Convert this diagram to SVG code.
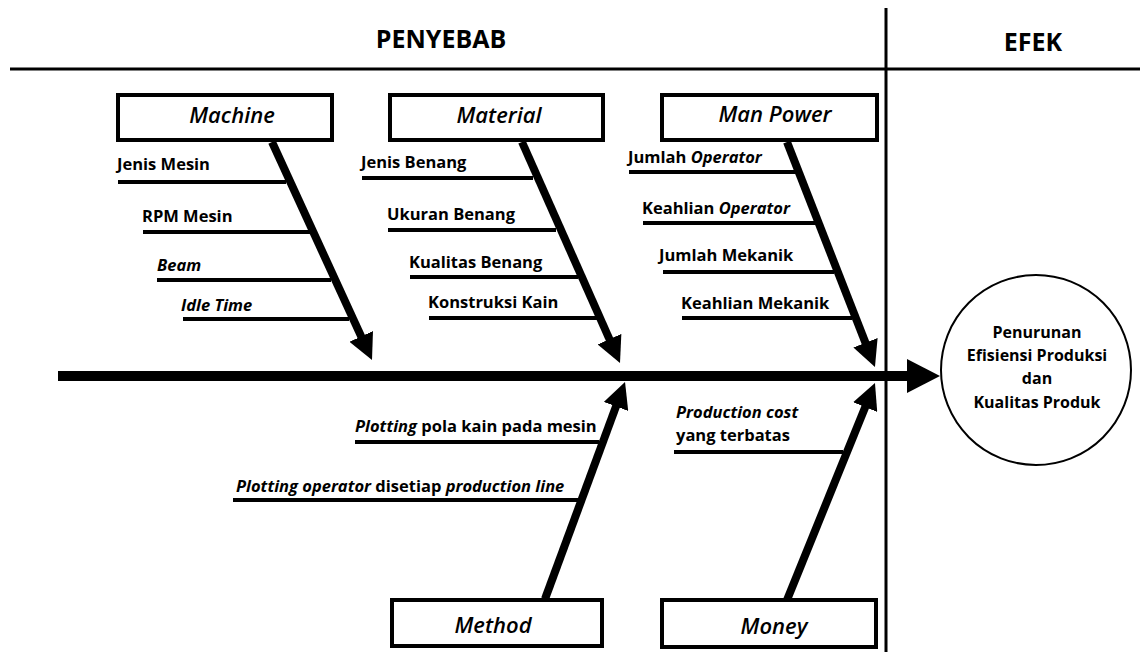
<svg xmlns="http://www.w3.org/2000/svg" width="1140" height="652" viewBox="0 0 1140 652">
<style>
.box{fill:#fff;stroke:#000;stroke-width:4}
.bl{font-family:"Open Sans","Liberation Sans",sans-serif;font-style:italic;font-weight:600;font-size:22px;text-anchor:middle;fill:#000}
.t{font-family:"Open Sans","Liberation Sans",sans-serif;font-weight:700;font-size:16.5px;fill:#000}
.c{font-size:16px;text-anchor:middle}
.i{font-style:italic}
.br{stroke:#000;stroke-width:4;fill:none}
.ar{stroke:#000;stroke-width:8;fill:none;marker-end:url(#ah)}
.hd{font-family:"Open Sans","Liberation Sans",sans-serif;font-weight:700;font-size:25px;text-anchor:middle;fill:#000}
</style>
<defs>
<marker id="ah" markerUnits="userSpaceOnUse" markerWidth="28" markerHeight="26" refX="8" refY="13" orient="auto">
<path d="M0,0 L26,13 L0,26 z" fill="#000"/>
</marker>
<marker id="bh" markerUnits="userSpaceOnUse" markerWidth="36" markerHeight="36" refX="4" refY="17" orient="auto">
<path d="M0,0 L33,17 L0,34 z" fill="#000"/>
</marker>
</defs>
<rect width="1140" height="652" fill="#fff"/>
<g id="frame">
<line x1="10" y1="69" x2="1140" y2="69" stroke="#000" stroke-width="3"/>
<line x1="886" y1="8" x2="886" y2="652" stroke="#000" stroke-width="3"/>
<text class="hd" x="441" y="48">PENYEBAB</text>
<text class="hd" x="1033" y="51">EFEK</text>
</g>
<g id="connectors">
<line x1="58" y1="376" x2="911" y2="376" stroke="#000" stroke-width="10" marker-end="url(#bh)"/>
<line class="ar" x1="272" y1="142" x2="364.5" y2="343.7"/>
<line class="ar" x1="522" y1="142" x2="612.7" y2="346.5"/>
<line class="ar" x1="787" y1="142" x2="868.4" y2="350.2"/>
<line class="ar" x1="545" y1="599" x2="618.8" y2="398.9"/>
<line class="ar" x1="787" y1="600" x2="868.2" y2="399.7"/>
<line class="br" x1="118" y1="182" x2="286" y2="182"/>
<line class="br" x1="143" y1="232" x2="310" y2="232"/>
<line class="br" x1="157" y1="280" x2="331" y2="280"/>
<line class="br" x1="183" y1="319" x2="349" y2="319"/>
<line class="br" x1="362" y1="178" x2="533" y2="178"/>
<line class="br" x1="388" y1="230" x2="556" y2="230"/>
<line class="br" x1="410" y1="277" x2="578" y2="277"/>
<line class="br" x1="429" y1="318" x2="597" y2="318"/>
<line class="br" x1="629" y1="172" x2="798" y2="172"/>
<line class="br" x1="643" y1="223" x2="816" y2="223"/>
<line class="br" x1="663" y1="272" x2="834" y2="272"/>
<line class="br" x1="682" y1="318" x2="852" y2="318"/>
<line class="br" x1="355" y1="442" x2="599" y2="442"/>
<line class="br" x1="233" y1="500" x2="578" y2="500"/>
<line class="br" x1="674" y1="452" x2="843" y2="452"/>
</g>
<g id="machine">
<rect class="box" x="118" y="95" width="214" height="45"/>
<text class="bl" x="232" y="123">Machine</text>
<text class="t" x="117" y="170">Jenis Mesin</text>
<text class="t" x="142" y="222">RPM Mesin</text>
<text class="t i" x="157" y="271">Beam</text>
<text class="t i" x="181" y="311">Idle Time</text>
</g>
<g id="material">
<rect class="box" x="390" y="95" width="213" height="45"/>
<text class="bl" x="499" y="123">Material</text>
<text class="t" x="361" y="168">Jenis Benang</text>
<text class="t" x="387" y="220">Ukuran Benang</text>
<text class="t" x="409" y="268">Kualitas Benang</text>
<text class="t" x="428" y="308">Konstruksi Kain</text>
</g>
<g id="manpower">
<rect class="box" x="662" y="95" width="215" height="45"/>
<text class="bl" x="775" y="122">Man Power</text>
<text class="t" x="628" y="163">Jumlah <tspan class="i">Operator</tspan></text>
<text class="t" x="642" y="214">Keahlian <tspan class="i">Operator</tspan></text>
<text class="t" x="659" y="261">Jumlah Mekanik</text>
<text class="t" x="681" y="309">Keahlian Mekanik</text>
</g>
<g id="method">
<rect class="box" x="392" y="600" width="210" height="46"/>
<text class="bl" x="493" y="633">Method</text>
<text class="t" x="355" y="432"><tspan class="i">Plotting</tspan> pola kain pada mesin</text>
<text class="t" x="236" y="492"><tspan class="i">Plotting operator</tspan> disetiap <tspan class="i">production line</tspan></text>
</g>
<g id="money">
<rect class="box" x="662" y="600" width="214" height="47"/>
<text class="bl" x="774" y="634">Money</text>
<text class="t i" x="676" y="418">Production cost</text>
<text class="t" x="676" y="441">yang terbatas</text>
</g>
<g id="effect">
<circle cx="1036" cy="370" r="95" fill="#fff" stroke="#000" stroke-width="2"/>
<text class="t c" x="1037" y="338">Penurunan</text>
<text class="t c" x="1037" y="361">Efisiensi Produksi</text>
<text class="t c" x="1037" y="384">dan</text>
<text class="t c" x="1037" y="408">Kualitas Produk</text>
</g>
</svg>
